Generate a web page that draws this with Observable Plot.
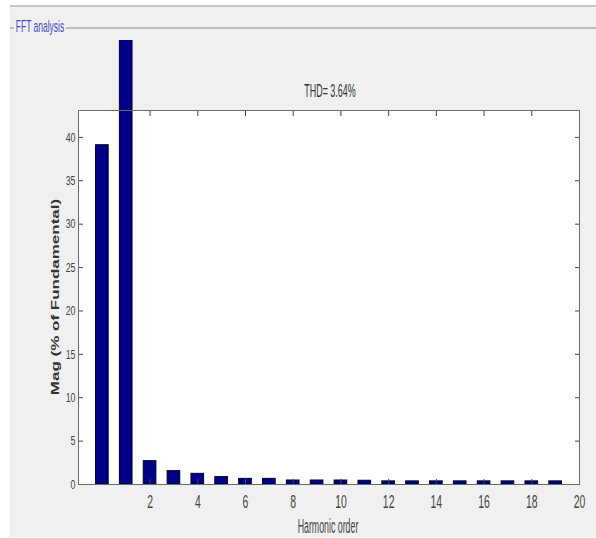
<!DOCTYPE html>
<html>
<head>
<meta charset="utf-8">
<script src="https://cdn.jsdelivr.net/npm/d3@7"></script>
<script src="https://cdn.jsdelivr.net/npm/@observablehq/plot@0.6"></script>
<style>
  body { margin: 0; background: #fff; }
  #wrap { position: relative; width: 596px; height: 538px; overflow: hidden; background: #fff;
          font-family: "Liberation Sans", Arial, sans-serif; }
  #panel { position: absolute; left: 10px; top: 5px; width: 586px; height: 532px; background: #f0f0f0;
           border-top: 2px solid #c6c6c6; box-sizing: border-box; }
  .gline { position: absolute; height: 2px; background: #bdbdbd; top: 27px; }
  .lbl { position: absolute; white-space: nowrap; line-height: 1; }
  #chart { position: absolute; left: 0; top: 40px; }
  #chart svg { overflow: hidden; }
</style>
</head>
<body>
<div id="wrap">
  <div id="panel"></div>
  <div class="gline" style="left:10px;width:4px"></div>
  <div class="gline" style="left:66px;width:530px"></div>
  <div class="lbl" style="left:40px;top:26px;font-size:17px;color:#4848c8;transform:translate(-50%,-50%) scaleX(0.5)">FFT analysis</div>
  <div class="lbl" style="left:330px;top:90px;font-size:19px;color:#333;transform:translate(-50%,-50%) scaleX(0.47)">THD= 3.64%</div>
  <div class="lbl" style="left:327.5px;top:525.5px;font-size:20px;color:#444;transform:translate(-50%,-50%) scaleX(0.44)">Harmonic order</div>
  <div class="lbl" style="left:55.5px;top:297px;font-size:17px;font-weight:bold;color:#333;transform:translate(-50%,-50%) rotate(-90deg) scaleY(0.63)">Mag (% of Fundamental)</div>
  <div id="chart"></div>
</div>
<script>
const orders = [0, 1, 2, 3, 4, 5, 6, 7, 8, 9, 10, 11, 12, 13, 14, 15, 16, 17, 18, 19];
const magnitudes = [39.1, 100, 2.69, 1.54, 1.23, 0.85, 0.65, 0.65, 0.46, 0.46, 0.46, 0.43, 0.36, 0.36, 0.36, 0.36, 0.36, 0.36, 0.36, 0.36];
const xTicks = [2, 4, 6, 8, 10, 12, 14, 16, 18, 20];
const yTicks = [0, 5, 10, 15, 20, 25, 30, 35, 40];

const data = orders.map((o, i) => ({order: o, mag: magnitudes[i]}));

const chart = Plot.plot({
  width: 596,
  height: 498,
  marginTop: 70,
  marginRight: 17,
  marginBottom: 54,
  marginLeft: 78,
  style: {background: "transparent", overflow: "hidden", fontFamily: '"Liberation Sans", Arial, sans-serif', color: "#444"},
  x: {domain: [-1, 20]},
  y: {domain: [0, 43.1]},
  marks: [
    Plot.frame({fill: "white", stroke: null}),
    Plot.rect(data, {x1: d => d.order - 0.265, x2: d => d.order + 0.265, y1: 0, y2: "mag",
                     fill: "#000088", stroke: "#00002a", strokeWidth: 1}),
    Plot.axisY({anchor: "left", ticks: yTicks, tickSize: -5, tickPadding: 8, fontSize: 13, label: null}),
    Plot.axisY({anchor: "right", ticks: yTicks, tickSize: -5, tickFormat: () => "", label: null}),
    Plot.axisX({anchor: "bottom", ticks: xTicks, tickSize: -5, tickPadding: 16, fontSize: 18, label: null}),
    Plot.axisX({anchor: "top", ticks: xTicks, tickSize: -5, tickFormat: () => "", label: null}),
    Plot.frame({stroke: "#6a6a6a"})
  ]
});
document.getElementById("chart").appendChild(chart);

// horizontally condense tick labels around their anchor points (style only)
const condense = {"y-axis tick label": [0.68, "end"], "x-axis tick label": [0.58, "middle"]};
chart.querySelectorAll("g[aria-label]").forEach(g => {
  const c = condense[g.getAttribute("aria-label")];
  if (!c) return;
  const [s, anchor] = c;
  g.querySelectorAll("text").forEach(t => {
    if (!t.textContent) return;
    const b = t.getBBox();
    const ax = anchor === "end" ? b.x + b.width : b.x + b.width / 2;
    const tr = t.getAttribute("transform") || "";
    t.setAttribute("transform", `${tr} translate(${ax},0) scale(${s},1) translate(${-ax},0)`);
  });
});
</script>
</body>
</html>
